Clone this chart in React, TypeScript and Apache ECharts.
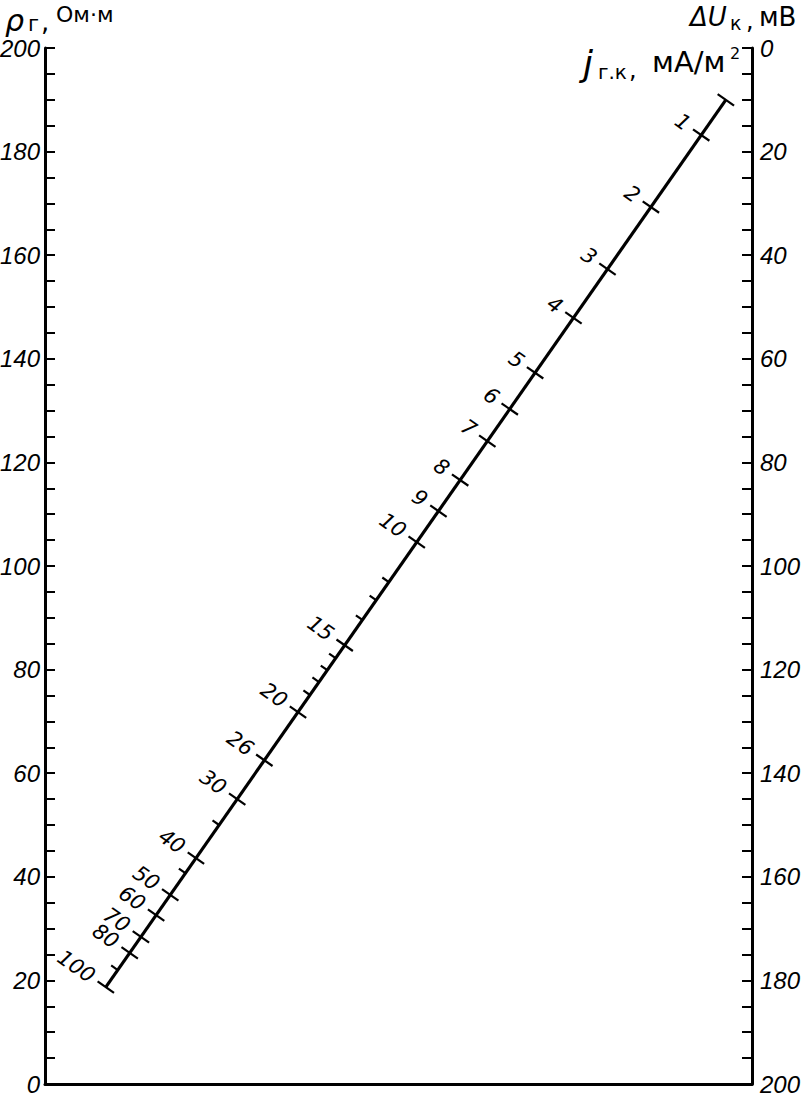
import React, { useEffect, useRef } from "react";
import * as echarts from "echarts";

// Left scale: ρг, Ом·м  (0..200), right scale: ΔUк, мВ (0..200, downward)
const rhoMin = 0;
const rhoMax = 200;
const rhoStep = 20;
const duMin = 0;
const duMax = 200;
const duStep = 20;

// Oblique scale jг.к, мА/м² — tick positions read as heights on the ρ scale
const jMajorLabels = ["1", "2", "3", "4", "5", "6", "7", "8", "9", "10", "15", "20", "26", "30", "40", "50", "60", "70", "80", "100"];
const jMajorRho = [183.2, 169.3, 157.3, 147.9, 137.3, 130.3, 124.1, 116.6, 110.6, 104.6, 84.7, 71.8, 62.5, 55.0, 43.6, 36.5, 32.6, 28.4, 25.3, 18.7];
const jMinorValues = [12, 13, 14, 16, 17, 18, 19, 35, 45, 90];
const jMinorRho = [96.9, 93.4, 89.6, 82.2, 79.9, 77.6, 75.1, 50.0, 40.7, 22.0];
// ends of the oblique line: [fraction between the two vertical scales, ρ height]
const diagonalEnds: number[][] = [
  [0.086, 18.7],
  [0.963, 190.0],
];

function xOnDiagonal(rho: number): number {
  const [x0, y0] = diagonalEnds[0];
  const [x1, y1] = diagonalEnds[1];
  return x0 + ((rho - y0) / (y1 - y0)) * (x1 - x0);
}

const axisFont = "'Liberation Sans', Arial, sans-serif";

function makeRender(kind: "major" | "minor" | "end") {
  return (params: any, api: any) => {
    const p = api.coord([api.value(0), api.value(1)]);
    const a = api.coord(diagonalEnds[0]);
    const b = api.coord(diagonalEnds[1]);
    let dx = b[0] - a[0];
    let dy = b[1] - a[1];
    const L = Math.hypot(dx, dy);
    dx /= L;
    dy /= L;
    const nx = dy;
    const ny = -dx;
    const stroke = { stroke: "#000", lineWidth: 2.2 };
    const children: any[] = [];
    if (kind === "minor") {
      children.push({
        type: "line",
        shape: { x1: p[0], y1: p[1], x2: p[0] + nx * 8, y2: p[1] + ny * 8 },
        style: stroke,
      });
    } else {
      children.push({
        type: "line",
        shape: { x1: p[0] - nx * 10, y1: p[1] - ny * 10, x2: p[0] + nx * 10, y2: p[1] + ny * 10 },
        style: stroke,
      });
    }
    if (kind === "major") {
      children.push({
        type: "text",
        x: p[0] + nx * 16,
        y: p[1] + ny * 16,
        rotation: Math.atan2(ny, -nx),
        style: {
          text: jMajorLabels[params.dataIndex],
          align: "right",
          verticalAlign: "middle",
          fontSize: 21,
          fontStyle: "italic",
          fontFamily: "'DejaVu Sans', sans-serif",
          fill: "#000",
        },
      });
    }
    return { type: "group", children };
  };
}

export default function App() {
  const ref = useRef<HTMLDivElement>(null);
  useEffect(() => {
    document.body.style.margin = "0";
    const chart = echarts.init(ref.current!, null, { renderer: "svg" });
    const axisLine = { show: true, lineStyle: { color: "#000", width: 3 } };
    const tick = { show: true, inside: true, length: 10, lineStyle: { color: "#000", width: 2 } };
    const minorTick = { show: true, splitNumber: 4, length: 10, lineStyle: { color: "#000", width: 2 } };
    const label = {
      fontFamily: axisFont,
      fontStyle: "italic",
      fontSize: 24,
      color: "#000",
    };
    const titleFont = "'DejaVu Sans', sans-serif";
    const option: any = {
      animation: false,
      backgroundColor: "#fff",
      grid: { left: 45, right: 51, top: 48, bottom: 14, containLabel: false, outerBoundsMode: "none" },
      xAxis: {
        type: "value",
        min: 0,
        max: 1,
        axisLine,
        axisTick: { show: false },
        axisLabel: { show: false },
        splitLine: { show: false },
      },
      yAxis: [
        {
          type: "value",
          position: "left",
          min: rhoMin,
          max: rhoMax,
          interval: rhoStep,
          axisLine,
          axisTick: tick,
          minorTick,
          axisLabel: { ...label, margin: 5 },
          splitLine: { show: false },
          minorSplitLine: { show: false },
        },
        {
          type: "value",
          position: "right",
          inverse: true,
          min: duMin,
          max: duMax,
          interval: duStep,
          axisLine,
          axisTick: tick,
          minorTick,
          axisLabel: { ...label, margin: 8 },
          splitLine: { show: false },
          minorSplitLine: { show: false },
        },
      ],
      series: [
        {
          type: "line",
          data: diagonalEnds,
          showSymbol: false,
          symbol: "none",
          lineStyle: { color: "#000", width: 3.2 },
          silent: true,
        },
        {
          type: "custom",
          renderItem: makeRender("major"),
          data: jMajorRho.map((r) => [xOnDiagonal(r), r]),
          clip: false,
        },
        {
          type: "custom",
          renderItem: makeRender("minor"),
          data: jMinorRho.map((r, i) => [xOnDiagonal(r), r, jMinorValues[i]]),
          clip: false,
        },
        {
          type: "custom",
          renderItem: makeRender("end"),
          data: [diagonalEnds[1]],
          clip: false,
        },
      ],
      graphic: [
        { type: "text", x: 5, y: 20, style: { text: "ρ", fontSize: 30, fontStyle: "italic", fontFamily: titleFont, fill: "#000", verticalAlign: "middle" } },
        { type: "text", x: 28, y: 24, style: { text: "г", fontSize: 21, fontFamily: titleFont, fill: "#000", verticalAlign: "middle" } },
        { type: "text", x: 41, y: 22, style: { text: ",", fontSize: 26, fontFamily: titleFont, fill: "#000", verticalAlign: "middle" } },
        { type: "text", x: 56, y: 14, style: { text: "Ом·м", fontSize: 22, fontFamily: titleFont, fill: "#000", verticalAlign: "middle" } },

        { type: "text", x: 690, y: 17, style: { text: "ΔU", fontSize: 26, fontStyle: "italic", fontFamily: titleFont, fill: "#000", verticalAlign: "middle" } },
        { type: "text", x: 730, y: 23, style: { text: "к", fontSize: 19, fontFamily: titleFont, fill: "#000", verticalAlign: "middle" } },
        { type: "text", x: 746, y: 21, style: { text: ",", fontSize: 24, fontFamily: titleFont, fill: "#000", verticalAlign: "middle" } },
        { type: "text", x: 759, y: 17, style: { text: "мВ", fontSize: 26, fontFamily: titleFont, fill: "#000", verticalAlign: "middle" } },

        { type: "text", x: 583, y: 63, style: { text: "j", fontSize: 36, fontStyle: "italic", fontFamily: titleFont, fill: "#000", verticalAlign: "middle" } },
        { type: "text", x: 598, y: 72, style: { text: "г.к", fontSize: 20, fontFamily: titleFont, fill: "#000", verticalAlign: "middle" } },
        { type: "text", x: 629, y: 70, style: { text: ",", fontSize: 24, fontFamily: titleFont, fill: "#000", verticalAlign: "middle" } },
        { type: "text", x: 652, y: 62, style: { text: "мА/м", fontSize: 29, fontFamily: titleFont, fill: "#000", verticalAlign: "middle" } },
        { type: "text", x: 730, y: 53, style: { text: "2", fontSize: 16, fontFamily: titleFont, fill: "#000", verticalAlign: "middle" } },
      ],
    };
    chart.setOption(option);
    return () => chart.dispose();
  }, []);
  return <div ref={ref} style={{ width: 803, height: 1098, background: "#fff" }} />;
}
